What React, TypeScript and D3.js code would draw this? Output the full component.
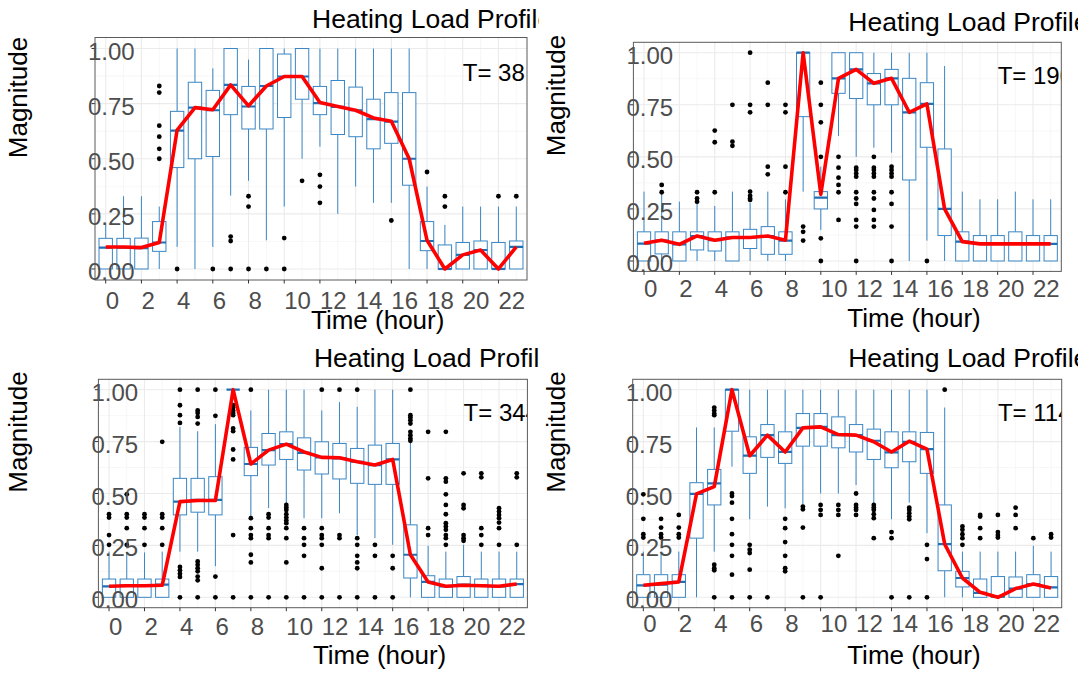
import React from "react";
import * as d3 from "d3";

const HOURS = d3.range(24);
const X_TICKS = [0, 2, 4, 6, 8, 10, 12, 14, 16, 18, 20, 22];
const Y_TICKS = [0, 0.25, 0.5, 0.75, 1];
const TITLES = ["Heating Load Profile", "Heating Load Profile", "Heating Load Profile", "Heating Load Profile"];
const T_LABELS = ["T= 38", "T= 190", "T= 344", "T= 114"];

// Panel 1
const p1Lo = [0, 0, 0, 0, 0.1, 0, 0.1, 0.333, 0.4, 0.13, 0.283, 0.5, 0.555, 0.25, 0.374, 0.3, 0.3, 0, 0, 0, 0, 0, 0, 0];
const p1Q1 = [0, 0, 0, 0.08, 0.46, 0.5, 0.51, 0.7, 0.635, 0.635, 0.687, 0.77, 0.7, 0.61, 0.6, 0.545, 0.57, 0.38, 0.083, 0, 0, 0, 0, 0];
const p1Med = [0.097, 0.097, 0.095, 0.12, 0.628, 0.732, 0.72, 0.835, 0.737, 0.83, 0.873, 0.873, 0.752, 0.735, 0.72, 0.68, 0.668, 0.5, 0.127, 0, 0.064, 0.086, 0, 0.1];
const p1Q3 = [0.139, 0.139, 0.14, 0.215, 0.715, 0.847, 0.81, 1, 0.828, 1, 0.975, 1, 0.828, 0.855, 0.825, 0.77, 0.8, 0.8, 0.215, 0.109, 0.12, 0.127, 0.12, 0.127];
const p1Hi = [0.21, 0.33, 0.33, 0.283, 1, 1, 0.91, 1, 0.95, 1, 1, 1, 1, 1, 1, 1, 1, 1, 0.374, 0.2, 0.283, 0.283, 0.283, 0.283];
const p1Line = [0.1, 0.1, 0.097, 0.12, 0.63, 0.732, 0.722, 0.835, 0.74, 0.83, 0.873, 0.873, 0.755, 0.737, 0.72, 0.685, 0.67, 0.5, 0.13, 0, 0.064, 0.086, 0, 0.1];
const p1Out = [[], [], [], [0.83, 0.8, 0.65, 0.6, 0.545, 0.5], [0], [], [0], [0.147, 0.127, 0], [0.33, 0.283, 0], [0], [0.14, 0], [0.4], [0.427, 0.374, 0.3], [], [], [], [0.22], [], [0.44], [0.33, 0.283], [], [], [0.33], [0.33]];

// Panel 2
const p2Lo = [0, 0, 0, 0, 0, 0, 0, 0, 0, 0.333, 0.149, 0.6, 0.5, 0.544, 0.52, 0, 0.098, 0, 0, 0, 0, 0, 0, 0];
const p2Q1 = [0, 0.034, 0, 0.053, 0.048, 0, 0.06, 0.032, 0.032, 0.693, 0.25, 0.805, 0.78, 0.75, 0.75, 0.389, 0.546, 0.122, 0, 0, 0, 0, 0, 0];
const p2Med = [0.083, 0.098, 0.08, 0.12, 0.1, 0.113, 0.113, 0.12, 0.098, 1, 0.304, 0.877, 0.92, 0.853, 0.877, 0.714, 0.754, 0.25, 0.093, 0.082, 0.082, 0.082, 0.082, 0.082];
const p2Q3 = [0.14, 0.14, 0.14, 0.14, 0.14, 0.14, 0.152, 0.165, 0.14, 1, 0.333, 1, 1, 0.9, 0.92, 0.877, 0.856, 0.538, 0.14, 0.122, 0.122, 0.14, 0.122, 0.122];
const p2Hi = [0.333, 0.34, 0.285, 0.293, 0.264, 0.333, 0.28, 0.333, 0.296, 1, 0.453, 1, 1, 1, 1, 1, 1, 0.936, 0.333, 0.296, 0.296, 0.333, 0.296, 0.296];
const p2Line = [0.085, 0.1, 0.08, 0.12, 0.1, 0.113, 0.113, 0.12, 0.1, 1, 0.32, 0.877, 0.92, 0.853, 0.877, 0.714, 0.754, 0.25, 0.093, 0.082, 0.082, 0.082, 0.082, 0.082];
const p2Out = [[], [0.365, 0.33], [], [0.33, 0.3, 0.285], [0.626, 0.57, 0.33], [0.75, 0.573, 0.553], [1, 0.75, 0.714, 0.333, 0.313, 0.3, 0.293], [0.856, 0.75, 0.453, 0.416], [0.75, 0.714, 0.453, 0.33], [0.165, 0.14, 0.098], [0.856, 0.75, 0.666, 0.5, 0.109, 0], [0.5, 0.448, 0.4, 0.365, 0.33, 0.197], [0.448, 0.437, 0.42, 0.405, 0.33, 0.3, 0.274, 0.197, 0.165, 0], [0.5, 0.448, 0.437, 0.42, 0.405, 0.33, 0.3, 0.245, 0.197, 0.165], [0.453, 0.437, 0.42, 0.405, 0.33, 0.274, 0.165, 0], [], [0], [], [], [], [], [], [], []];

// Panel 3
const p3Lo = [0, 0, 0, 0, 0.22, 0.22, 0.15, 1, 0.381, 0.43, 0.453, 0.381, 0.381, 0.405, 0.3, 0.285, 0.253, 0, 0, 0, 0, 0, 0, 0];
const p3Q1 = [0, 0, 0, 0, 0.397, 0.41, 0.397, 1, 0.586, 0.637, 0.664, 0.613, 0.594, 0.57, 0.549, 0.544, 0.544, 0.093, 0, 0, 0, 0, 0, 0];
const p3Med = [0.053, 0.056, 0.056, 0.061, 0.461, 0.469, 0.469, 1, 0.642, 0.709, 0.738, 0.696, 0.674, 0.669, 0.653, 0.637, 0.664, 0.205, 0.074, 0.053, 0.061, 0.056, 0.053, 0.064];
const p3Q3 = [0.088, 0.088, 0.088, 0.088, 0.573, 0.573, 0.581, 1, 0.722, 0.789, 0.797, 0.768, 0.749, 0.741, 0.717, 0.733, 0.741, 0.349, 0.104, 0.088, 0.1, 0.088, 0.088, 0.088];
const p3Hi = [0.22, 0.216, 0.216, 0.22, 0.82, 0.8, 0.834, 1, 0.9, 1, 1, 1, 0.9, 0.94, 0.917, 1, 1, 0.749, 0.248, 0.22, 0.253, 0.22, 0.22, 0.22];
const p3Line = [0.053, 0.056, 0.056, 0.058, 0.461, 0.466, 0.466, 1, 0.642, 0.709, 0.738, 0.7, 0.674, 0.672, 0.653, 0.637, 0.664, 0.205, 0.074, 0.053, 0.058, 0.056, 0.053, 0.064];
const p3Out = [[0.4, 0.384, 0.3, 0.253], [0.496, 0.4, 0.384, 0.333, 0.253], [0.4, 0.384, 0.333, 0.253], [0.749, 0.4, 0.384, 0.333, 0.253], [1, 0.925, 0.877, 0.84, 0.146, 0.13, 0.114, 0.098, 0], [1, 0.9, 0.888, 0.869, 0.837, 0.173, 0.157, 0.14, 0.125, 0.1, 0.082, 0], [1, 0.874, 0.1, 0], [0.925, 0.914, 0.9, 0.888, 0.877, 0.813, 0.8, 0.712, 0.664, 0.3, 0], [1, 0.381, 0.333, 0.3, 0.285, 0.205, 0.168, 0], [0.4, 0.384, 0.333, 0.3, 0.285, 0], [0.445, 0.432, 0.42, 0.4, 0.384, 0.37, 0.357, 0.333, 0.285, 0.168, 0], [0.333, 0.285, 0.253, 0.2, 0], [1, 0.333, 0.3, 0.285, 0.253, 0.14, 0], [1, 0.3, 0.285, 0], [1, 0.285, 0.253, 0.2, 0.168, 0.14, 0], [0.253, 0.2, 0], [0.2, 0.14, 0], [1, 0.877, 0.866, 0.853, 0.837, 0.797, 0.781, 0.765, 0.754], [0.797, 0.573, 0.333, 0.3], [0.797, 0.573, 0.557, 0.496, 0.445, 0.4, 0.357, 0.341, 0.325, 0.3, 0.285, 0.253], [0.597, 0.445, 0.429, 0.3, 0.285, 0.272], [0.597, 0.578, 0.333, 0.3, 0.253], [0.429, 0.413, 0.397, 0.381, 0.36, 0.333, 0.253], [0.597, 0.578, 0.253]];

// Panel 4
const p4Lo = [0, 0, 0, 0, 0.22, 0.629, 0.376, 0.437, 0.429, 0.445, 0.5, 0.5, 0.541, 0.453, 0.376, 0.456, 0.309, 0, 0, 0, 0, 0, 0, 0];
const p4Q1 = [0, 0, 0, 0.285, 0.445, 0.8, 0.597, 0.674, 0.645, 0.728, 0.728, 0.72, 0.7, 0.664, 0.624, 0.653, 0.597, 0.128, 0.05, 0, 0, 0, 0, 0];
const p4Med = [0.058, 0.061, 0.074, 0.498, 0.549, 1, 0.682, 0.781, 0.7, 0.816, 0.821, 0.781, 0.781, 0.754, 0.698, 0.749, 0.714, 0.256, 0.093, 0.021, 0.005, 0.042, 0.064, 0.048];
const p4Q3 = [0.109, 0.109, 0.109, 0.552, 0.616, 1, 0.773, 0.832, 0.797, 0.885, 0.885, 0.869, 0.832, 0.81, 0.797, 0.797, 0.794, 0.445, 0.125, 0.088, 0.1, 0.098, 0.109, 0.1];
const p4Hi = [0.22, 0.22, 0.22, 0.818, 0.818, 1, 1, 1, 1, 1, 1, 1, 1, 1, 1, 1, 1, 0.914, 0.22, 0.22, 0.22, 0.22, 0.248, 0.22];
const p4Line = [0.058, 0.066, 0.074, 0.498, 0.533, 1, 0.682, 0.781, 0.7, 0.816, 0.821, 0.784, 0.781, 0.749, 0.7, 0.752, 0.714, 0.256, 0.093, 0.024, 0, 0.042, 0.064, 0.045];
const p4Out = [[0.496, 0.378, 0.304, 0.288], [0.378, 0.336, 0.304, 0.288], [0.397, 0.336, 0.304, 0.288], [], [0.914, 0.9, 0.885, 0.877, 0.157, 0.14, 0.13, 0], [0.5, 0.488, 0.456, 0.378, 0.304, 0.253, 0.2, 0.109, 0], [0.253, 0.229, 0.213, 0.133, 0], [0], [0.378, 0.333, 0.266, 0.2, 0.14, 0.125], [0.437, 0.424, 0.336, 0], [0.445, 0.421, 0.397, 0], [0.445, 0.421, 0.397, 0.2], [0.5, 0.445, 0.432, 0.421, 0.397], [0.445, 0.432, 0.421, 0.4, 0.381, 0.285], [0.314, 0.285, 0], [0.432, 0.421, 0.405, 0.39, 0.376, 0], [0.253, 0.184, 0], [1], [0.341, 0.325, 0.304, 0.285, 0.253], [0.397, 0.389, 0.333, 0.285], [0.397, 0.314, 0.3, 0.288], [0.432, 0.397, 0.333], [0.285], [0.304, 0.288]];

const STATS = [
  { lo: p1Lo, q1: p1Q1, med: p1Med, q3: p1Q3, hi: p1Hi, line: p1Line, out: p1Out },
  { lo: p2Lo, q1: p2Q1, med: p2Med, q3: p2Q3, hi: p2Hi, line: p2Line, out: p2Out },
  { lo: p3Lo, q1: p3Q1, med: p3Med, q3: p3Q3, hi: p3Hi, line: p3Line, out: p3Out },
  { lo: p4Lo, q1: p4Q1, med: p4Med, q3: p4Q3, hi: p4Hi, line: p4Line, out: p4Out },
];

// layout (positions only)
const LAYOUT = [
  { x0: 95, x1: 527, y0: 37.5, y1: 280, tickBase: 309, xlabBase: 329, titleBase: 28, magX: 27, magY: 97.5, cx: [0, 539], cy: [0, 337] },
  { x0: 633.4, x1: 1061.3, y0: 42.3, y1: 271.4, tickBase: 297, xlabBase: 327, titleBase: 31, magX: 565, magY: 95.5, cx: [539, 1078], cy: [0, 337] },
  { x0: 98.4, x1: 527.4, y0: 379.3, y1: 607.7, tickBase: 635, xlabBase: 664, titleBase: 367, magX: 27, magY: 432, cx: [0, 539], cy: [337, 674] },
  { x0: 632.7, x1: 1061.7, y0: 379.3, y1: 607.7, tickBase: 632, xlabBase: 664, titleBase: 367, magX: 565, magY: 432, cx: [539, 1078], cy: [337, 674] },
];

const FONT = "'Liberation Sans', Arial, Helvetica, sans-serif";
const BOX_COLOR = "#3a86c4";
const MED_COLOR = "#1f6fb5";
const fmt = d3.format(".2f");

function Panel({ idx }: { idx: number }) {
  const L = LAYOUT[idx];
  const S = STATS[idx];
  const x = d3.scaleLinear().domain([-0.6, 23.6]).range([L.x0, L.x1]);
  const y = d3.scaleLinear().domain([-0.05, 1.05]).range([L.y1, L.y0]);
  const bw = (x(0.375) - x(0));
  const clipId = `pclip${idx}`;
  const colClip = `cclip${idx}`;
  const line = d3.line<number>().x((d, i) => x(HOURS[i])).y((d) => y(d));
  const minorY = [0.125, 0.375, 0.625, 0.875];
  const minorX = d3.range(1, 24, 2);
  const mid = (L.x0 + L.x1) / 2;
  return (
    <g>
      <defs>
        <clipPath id={clipId}>
          <rect x={L.x0} y={L.y0} width={L.x1 - L.x0} height={L.y1 - L.y0} />
        </clipPath>
        <clipPath id={colClip}>
          <rect x={L.cx[0]} y={L.cy[0]} width={L.cx[1] - L.cx[0]} height={L.cy[1] - L.cy[0]} />
        </clipPath>
      </defs>
      <g clipPath={`url(#${colClip})`}>
        <g clipPath={`url(#${clipId})`}>
          {minorY.map((v) => (
            <line key={"my" + v} x1={L.x0} x2={L.x1} y1={y(v)} y2={y(v)} stroke="#f2f2f2" strokeWidth={0.6} />
          ))}
          {minorX.map((v) => (
            <line key={"mx" + v} y1={L.y0} y2={L.y1} x1={x(v)} x2={x(v)} stroke="#f2f2f2" strokeWidth={0.6} />
          ))}
          {Y_TICKS.map((v) => (
            <line key={"gy" + v} x1={L.x0} x2={L.x1} y1={y(v)} y2={y(v)} stroke="#ebebeb" strokeWidth={1.1} />
          ))}
          {X_TICKS.map((v) => (
            <line key={"gx" + v} y1={L.y0} y2={L.y1} x1={x(v)} x2={x(v)} stroke="#ebebeb" strokeWidth={1.1} />
          ))}
          {HOURS.map((h) => {
            const cx = x(h);
            return (
              <g key={"b" + h}>
                <line x1={cx} x2={cx} y1={y(S.q3[h])} y2={y(S.hi[h])} stroke={BOX_COLOR} strokeWidth={1} />
                <line x1={cx} x2={cx} y1={y(S.q1[h])} y2={y(S.lo[h])} stroke={BOX_COLOR} strokeWidth={1} />
                <rect x={cx - bw} width={2 * bw} y={y(S.q3[h])} height={Math.max(0, y(S.q1[h]) - y(S.q3[h]))} fill="#ffffff" stroke={BOX_COLOR} strokeWidth={1} />
                <line x1={cx - bw} x2={cx + bw} y1={y(S.med[h])} y2={y(S.med[h])} stroke={MED_COLOR} strokeWidth={2.2} />
              </g>
            );
          })}
          {HOURS.map((h) =>
            S.out[h].map((v, j) => <circle key={`o${h}-${j}`} cx={x(h)} cy={y(v)} r={2.4} fill="#000" />)
          )}
          <path d={line(S.line) || ""} fill="none" stroke="#ff0000" strokeWidth={3.6} strokeLinejoin="round" />
          <text x={x(20)} y={y(0.9) + 10.8} fontFamily={FONT} fontSize={24} fill="#000">{T_LABELS[idx]}</text>
        </g>
        {Y_TICKS.map((v) => (
          <g key={"yl" + v}>
            <line x1={L.x0 - 3.5} x2={L.x0} y1={y(v)} y2={y(v)} stroke="#333" strokeWidth={1} />
            <text x={L.x0 - 7} y={y(v) + 11} fontFamily={FONT} fontSize={24} fill="#4d4d4d">{fmt(v)}</text>
          </g>
        ))}
        <rect x={L.x0} y={L.y0} width={L.x1 - L.x0} height={L.y1 - L.y0} fill="none" stroke="#5a5a5a" strokeWidth={1} />
        {X_TICKS.map((v) => (
          <g key={"xl" + v}>
            <line x1={x(v)} x2={x(v)} y1={L.y1} y2={L.y1 + 3.5} stroke="#333" strokeWidth={1} />
            <text x={x(v)} y={L.tickBase} fontFamily={FONT} fontSize={24} fill="#4d4d4d">{String(v)}</text>
          </g>
        ))}
        <text x={mid} y={L.xlabBase} fontFamily={FONT} fontSize={26} fill="#000">Time (hour)</text>
        <text x={mid + 1} y={L.titleBase} fontFamily={FONT} fontSize={26.5} fill="#000">{TITLES[idx]}</text>
        <text transform={`translate(${L.magX},${L.magY}) rotate(-90)`} textAnchor="middle" fontFamily={FONT} fontSize={26} fill="#000">Magnitude</text>
      </g>
    </g>
  );
}

export default function App() {
  return (
    <svg width={1078} height={674} style={{ position: "absolute", left: 0, top: 0, background: "#fff" }}>
      <rect x={0} y={0} width={1078} height={674} fill="#fff" />
      {[0, 1, 2, 3].map((i) => (
        <Panel key={i} idx={i} />
      ))}
    </svg>
  );
}
